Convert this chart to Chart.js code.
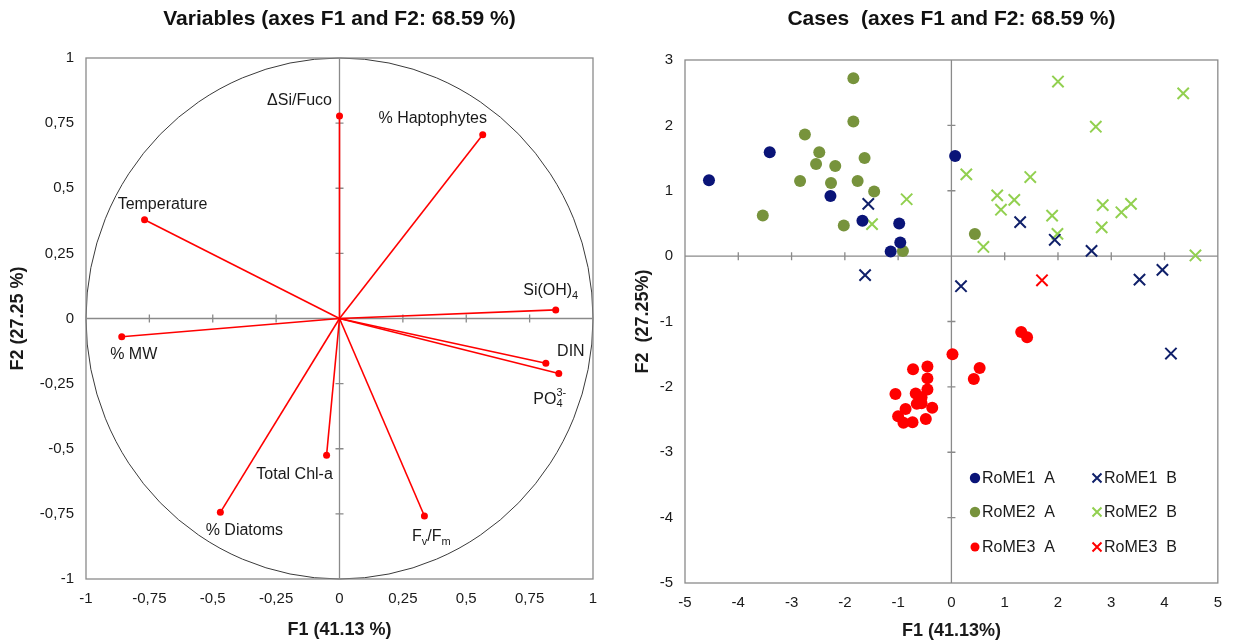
<!DOCTYPE html>
<html>
<head>
<meta charset="utf-8">
<script src="https://cdn.jsdelivr.net/npm/chart.js@4.4.0/dist/chart.umd.min.js"></script>
<style>
  html, body { margin: 0; padding: 0; background: #fff; overflow: hidden; }
  #wrap { position: relative; width: 1233px; height: 642px; }
  .box { position: absolute; top: 0; height: 642px; }
  #left { left: 0; width: 616px; }
  #right { left: 616px; width: 617px; }
</style>
</head>
<body>
<div id="wrap">
  <div class="box" id="left"><canvas id="varChart" width="616" height="642"></canvas></div>
  <div class="box" id="right"><canvas id="caseChart" width="617" height="642"></canvas></div>
</div>
<script>
// ---- correlation circle (variables) ----
const variableNames = ["ΔSi/Fuco", "% Haptophytes", "Temperature", "Si(OH)_{4}", "% MW",
  "DIN", "PO_{4}^{3-}", "Total Chl-a", "% Diatoms", "F_{v}/F_{m}"];
const loadingsF1 = [0.0, 0.565, -0.769, 0.853, -0.859, 0.814, 0.865, -0.051, -0.47, 0.335];
const loadingsF2 = [0.777, 0.705, 0.379, 0.033, -0.07, -0.172, -0.211, -0.525, -0.744, -0.758];
const loadingTicks = [-1, -0.75, -0.5, -0.25, 0, 0.25, 0.5, 0.75, 1];

// ---- observations (cases) ----
const rome1A_F1 = [-4.55, -3.41, -2.27, -1.67, -0.98, -0.96, -1.14, 0.07];
const rome1A_F2 = [1.16, 1.59, 0.92, 0.54, 0.50, 0.21, 0.07, 1.53];
const rome2A_F1 = [-1.84, -1.84, -2.75, -2.48, -2.54, -2.18, -1.63, -2.84, -2.26, -1.76, -1.45, -3.54, -2.02, -0.91, 0.44];
const rome2A_F2 = [2.72, 2.06, 1.86, 1.59, 1.41, 1.38, 1.50, 1.15, 1.12, 1.15, 0.99, 0.62, 0.47, 0.08, 0.34];
const rome3A_F1 = [1.31, 1.42, 0.02, 0.53, 0.42, -0.72, -0.45, -0.45, -0.45, -1.05, -0.67, -0.56, -0.65, -0.56, -0.36, -0.86, -1.00, -0.90, -0.73, -0.48];
const rome3A_F2 = [-1.16, -1.24, -1.50, -1.71, -1.88, -1.73, -1.69, -1.87, -2.04, -2.11, -2.10, -2.16, -2.26, -2.25, -2.32, -2.34, -2.45, -2.55, -2.54, -2.49];
const rome1B_F1 = [-1.56, -1.62, 0.18, 1.29, 1.94, 2.63, 3.53, 3.96, 4.12];
const rome1B_F2 = [0.80, -0.29, -0.46, 0.52, 0.25, 0.08, -0.36, -0.21, -1.49];
const rome2B_F1 = [2.0, 4.35, 2.71, 0.28, 1.48, -0.84, 0.86, 1.18, 0.93, 2.84, 3.37, 3.19, 1.89, 2.82, -1.49, 1.99, 0.60, 4.58];
const rome2B_F2 = [2.67, 2.49, 1.98, 1.25, 1.21, 0.87, 0.93, 0.86, 0.71, 0.78, 0.80, 0.67, 0.62, 0.44, 0.49, 0.34, 0.14, 0.01];
const rome3B_F1 = [1.70];
const rome3B_F2 = [-0.37];
const caseTicksF1 = [-5, -4, -3, -2, -1, 0, 1, 2, 3, 4, 5];
const caseTicksF2 = [-5, -4, -3, -2, -1, 0, 1, 2, 3];

const FONT = "'Liberation Sans', Arial, sans-serif";
Chart.defaults.font.family = FONT;
Chart.defaults.color = "#1a1a1a";

// label offsets in px from the arrow tip
const labelOffsets = [[-40, -15], [-50, -16], [18, -15], [-5, -19], [12, 18],
  [25, -12], [-9, 26], [-32, 19], [24, 18], [7, 21]];

const pts = (xs, ys) => xs.map((v, i) => ({ x: v, y: ys[i] }));
const commaFmt = (v) => String(Math.round(v * 100) / 100).replace(".", ",");

const drawRichText = (ctx, markup, cx, cy, size) => {
  const parts = [];
  const re = /([_^])\{([^}]*)\}/g;
  let last = 0, m;
  while ((m = re.exec(markup))) {
    if (m.index > last) parts.push({ t: markup.slice(last, m.index), k: "" });
    parts.push({ t: m[2], k: m[1] });
    last = re.lastIndex;
  }
  if (last < markup.length) parts.push({ t: markup.slice(last), k: "" });
  const big = size + "px " + FONT;
  const small = Math.round(size * 0.68) + "px " + FONT;
  let x = 0;
  parts.forEach((p, i) => {
    ctx.font = p.k ? small : big;
    p.w = ctx.measureText(p.t).width;
    p.x = x;
    if (p.k === "^" && i > 0 && parts[i - 1].k === "_") p.x = parts[i - 1].x;
    x = Math.max(x, p.x + p.w);
  });
  const left = cx - x / 2;
  ctx.textAlign = "left";
  ctx.textBaseline = "middle";
  parts.forEach((p) => {
    ctx.font = p.k ? small : big;
    const dy = p.k === "_" ? size * 0.3 : p.k === "^" ? -size * 0.4 : 0;
    ctx.fillText(p.t, left + p.x, cy + dy);
  });
};

const frameAndCross = {
  id: "frameAndCross",
  beforeDatasetsDraw(chart, args, opts) {
    const { ctx, chartArea: a, scales: { x, y } } = chart;
    const x0 = x.getPixelForValue(0), y0 = y.getPixelForValue(0);
    ctx.save();
    if (opts.circle) {
      ctx.strokeStyle = "#3a3a3a";
      ctx.lineWidth = 1;
      ctx.beginPath();
      ctx.ellipse(x0, y0, x.getPixelForValue(1) - x0, y0 - y.getPixelForValue(1), 0, 0, Math.PI * 2);
      ctx.stroke();
    }
    ctx.strokeStyle = "#8a8a8a";
    ctx.lineWidth = 1.3;
    ctx.beginPath();
    ctx.moveTo(x0, a.top); ctx.lineTo(x0, a.bottom);
    ctx.moveTo(a.left, y0); ctx.lineTo(a.right, y0);
    x.ticks.forEach((t) => {
      if (t.value === x.min || t.value === x.max || t.value === 0) return;
      const px = x.getPixelForValue(t.value);
      ctx.moveTo(px, y0 - 4); ctx.lineTo(px, y0 + 4);
    });
    y.ticks.forEach((t) => {
      if (t.value === y.min || t.value === y.max || t.value === 0) return;
      const py = y.getPixelForValue(t.value);
      ctx.moveTo(x0 - 4, py); ctx.lineTo(x0 + 4, py);
    });
    ctx.stroke();
    ctx.strokeRect(a.left, a.top, a.width, a.height);
    ctx.restore();
  },
};

const varLabels = {
  id: "varLabels",
  afterDatasetsDraw(chart) {
    const { ctx, scales: { x, y } } = chart;
    ctx.save();
    ctx.fillStyle = "#1a1a1a";
    variableNames.forEach((name, i) => {
      const px = x.getPixelForValue(loadingsF1[i]) + labelOffsets[i][0];
      const py = y.getPixelForValue(loadingsF2[i]) + labelOffsets[i][1];
      drawRichText(ctx, name, px, py, 16);
    });
    ctx.restore();
  },
};

const axisOpts = (ticks, w, h, titleText, titlePad, isX) => ({
  type: "linear",
  min: ticks[0],
  max: ticks[ticks.length - 1],
  afterBuildTicks: (s) => { s.ticks = ticks.map((v) => ({ value: v })); },
  afterFit: (s) => { if (isX) s.height = h; else s.width = w; },
  grid: { display: false, drawTicks: false },
  border: { display: false },
  ticks: { autoSkip: false, maxRotation: 0, padding: isX ? 11 : 12, font: { size: 15 }, callback: commaFmt },
  title: { display: true, text: titleText, font: { size: 18, weight: "bold", lineHeight: 1.2 }, color: "#1a1a1a", padding: titlePad },
});

new Chart(document.getElementById("varChart"), {
  type: "scatter",
  data: {
    datasets: variableNames.map((name, i) => ({
      label: name,
      data: [{ x: 0, y: 0 }, { x: loadingsF1[i], y: loadingsF2[i] }],
      showLine: true,
      borderColor: "#ff0000",
      backgroundColor: "#ff0000",
      borderWidth: 1.6,
      pointRadius: [0, 3.5],
      pointBorderWidth: 0,
    })),
  },
  options: {
    responsive: false,
    animation: false,
    layout: { padding: { left: 0, right: 23, top: 0, bottom: 0 } },
    scales: {
      x: axisOpts(loadingTicks, 0, 63, "F1 (41.13 %)", { top: 0, bottom: 1 }, true),
      y: axisOpts(loadingTicks, 86, 0, "F2 (27.25 %)", { top: 7, bottom: 0 }, false),
    },
    plugins: {
      legend: { display: false },
      tooltip: { enabled: false },
      title: {
        display: true, fullSize: false,
        text: "Variables (axes F1 and F2: 68.59 %)",
        font: { size: 21, weight: "bold", lineHeight: 1.2 }, color: "#111",
        padding: { top: 7, bottom: 25.8 },
      },
      frameAndCross: { circle: true },
    },
  },
  plugins: [frameAndCross, varLabels],
});

// ---- cases chart ----
const caseGroups = [
  { label: "RoME1  A", xs: rome1A_F1, ys: rome1A_F2, color: "#0a1478", style: "circle" },
  { label: "RoME2  A", xs: rome2A_F1, ys: rome2A_F2, color: "#77933c", style: "circle" },
  { label: "RoME3  A", xs: rome3A_F1, ys: rome3A_F2, color: "#ff0000", style: "circle" },
  { label: "RoME1  B", xs: rome1B_F1, ys: rome1B_F2, color: "#10206a", style: "crossRot" },
  { label: "RoME2  B", xs: rome2B_F1, ys: rome2B_F2, color: "#92d050", style: "crossRot" },
  { label: "RoME3  B", xs: rome3B_F1, ys: rome3B_F2, color: "#ff0000", style: "crossRot" },
];

const caseLegend = {
  id: "caseLegend",
  afterDatasetsDraw(chart) {
    const { ctx, chartArea: a } = chart;
    const colX = [290, 412], rowY = [418, 452, 487];
    ctx.save();
    chart.data.datasets.forEach((ds, i) => {
      const mx = a.left + colX[Math.floor(i / 3)];
      const my = a.top + rowY[i % 3];
      if (ds.pointStyle === "circle") {
        ctx.fillStyle = ds.backgroundColor;
        ctx.beginPath();
        ctx.arc(mx, my, i === 2 ? 4.5 : 5.2, 0, Math.PI * 2);
        ctx.fill();
      } else {
        ctx.strokeStyle = ds.borderColor;
        ctx.lineWidth = 2;
        ctx.beginPath();
        ctx.moveTo(mx - 4.5, my - 4.5); ctx.lineTo(mx + 4.5, my + 4.5);
        ctx.moveTo(mx + 4.5, my - 4.5); ctx.lineTo(mx - 4.5, my + 4.5);
        ctx.stroke();
      }
      ctx.fillStyle = "#1a1a1a";
      ctx.font = "16px " + FONT;
      ctx.textAlign = "left";
      ctx.textBaseline = "middle";
      ctx.fillText(ds.label, mx + 7, my + 1);
    });
    ctx.restore();
  },
};

new Chart(document.getElementById("caseChart"), {
  type: "scatter",
  data: {
    datasets: caseGroups.map((g) => ({
      label: g.label,
      data: pts(g.xs, g.ys),
      pointStyle: g.style,
      backgroundColor: g.color,
      borderColor: g.color,
      pointRadius: g.style === "circle" ? 6 : 8,
      pointBorderWidth: g.style === "circle" ? 0 : 2,
    })),
  },
  options: {
    responsive: false,
    animation: false,
    layout: { padding: { left: 0, right: 15, top: 0, bottom: 0 } },
    scales: {
      x: axisOpts(caseTicksF1, 0, 59, "F1 (41.13%)", { top: 0, bottom: 0 }, true),
      y: axisOpts(caseTicksF2, 69, 0, "F2  (27.25%)", { top: 16, bottom: 0 }, false),
    },
    plugins: {
      legend: { display: false },
      tooltip: { enabled: false },
      title: {
        display: true, fullSize: false,
        text: "Cases  (axes F1 and F2: 68.59 %)",
        font: { size: 21, weight: "bold", lineHeight: 1.2 }, color: "#111",
        padding: { top: 7, bottom: 27.8 },
      },
      frameAndCross: { circle: false },
    },
  },
  plugins: [frameAndCross, caseLegend],
});
</script>
</body>
</html>
